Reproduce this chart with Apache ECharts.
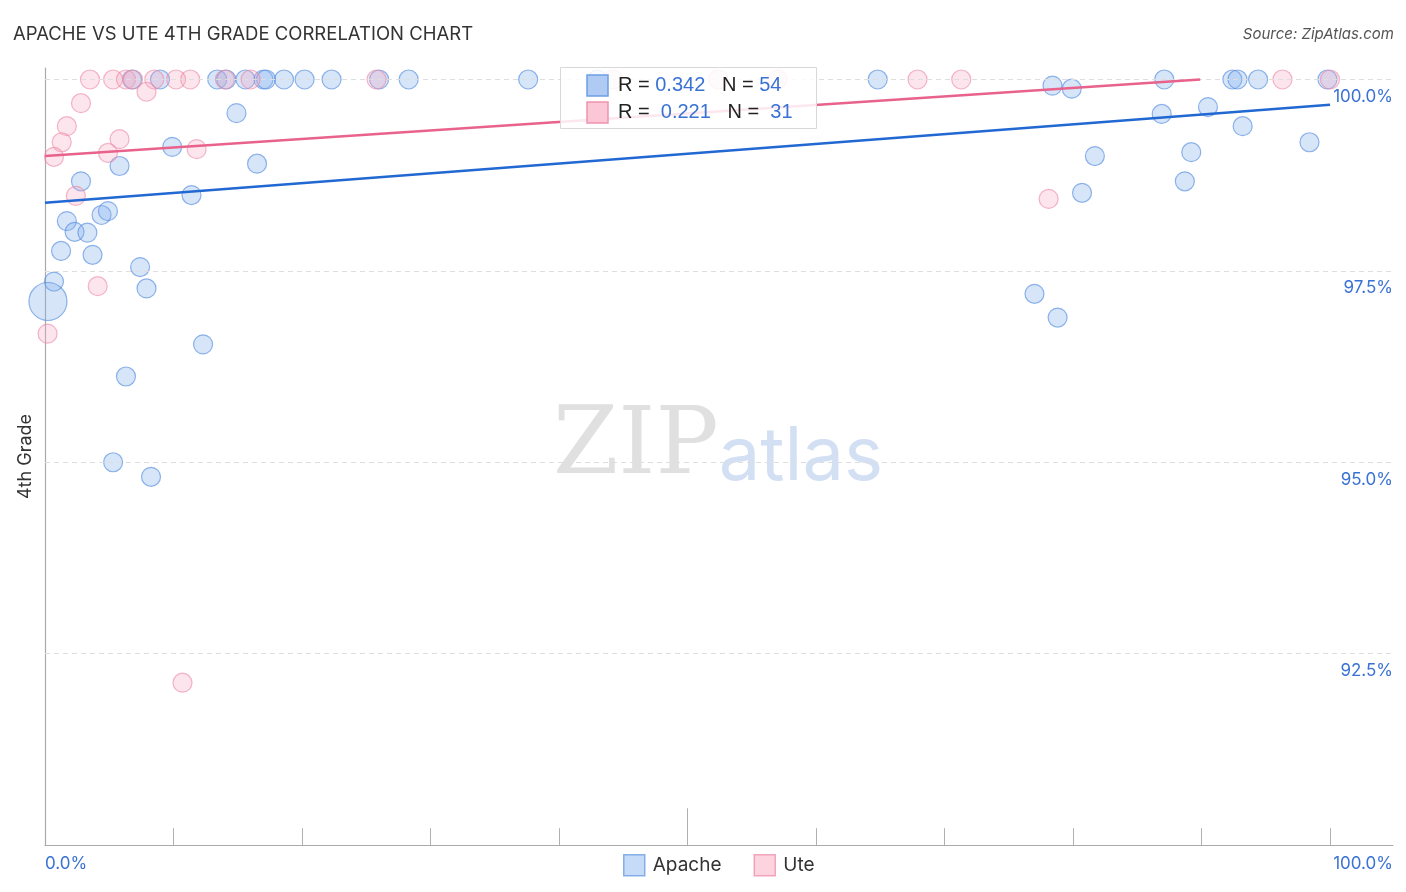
<!DOCTYPE html>
<html>
<head>
<meta charset="utf-8">
<script src="https://cdn.jsdelivr.net/npm/echarts@6/dist/echarts.min.js"></script>
<style>html,body{margin:0;padding:0;background:#fff}#c{width:1406px;height:892px}</style>
</head>
<body>
<div id="c"></div>
<script>
// ---- data ----
const apacheX = [6.77,8.95,13.4,14.1,15.6,17.0,17.2,18.6,20.2,22.3,26.0,28.3,37.6,43.0,64.8,87.1,92.4,92.8,94.4,99.8,
  78.4,79.9,
  14.9,9.9,16.5,5.8,2.8,11.4,1.7,4.4,4.9,2.3,3.3,1.25,3.7,7.4,0.7,0.23,7.9,12.3,6.3,5.3,8.25,
  86.9,90.5,93.2,98.4,81.7,89.2,88.7,80.7,77.0,78.8];
const apacheY = [100,100,100,100,100,100,100,100,100,100,100,100,100,100,100,100,100,100,100,100,
  99.92,99.88,
  99.56,99.12,98.90,98.87,98.67,98.49,98.15,98.23,98.28,98.01,98.0,97.76,97.71,97.55,97.36,97.10,97.27,96.54,96.12,95.0,94.81,
  99.55,99.64,99.39,99.18,99.0,99.05,98.67,98.52,97.20,96.89];
const apacheLarge = [37]; // index of the large bubble
const uteX = [3.5,5.3,6.3,6.85,8.5,10.2,11.3,14.0,16.0,25.8,44.2,52.4,57.0,67.9,71.3,96.3,100,
  7.9,2.8,1.7,1.3,0.7,5.8,4.9,11.8,2.4,4.1,0.2,10.7,78.1];
const uteY = [100,100,100,100,100,100,100,100,100,100,100,100,100,100,100,100,100,
  99.84,99.69,99.39,99.18,98.99,99.22,99.04,99.09,98.48,97.30,96.68,92.12,98.44];
const apacheTrend = [[0,98.39],[100,99.67]];
const uteTrend = [[0,99.0],[89.9,100]];
const yTicks = [92.5,95,97.5,100];
const xTickVals = [10,20,30,40,50,60,70,80,90,100];
const stats = [{name:'Apache', r:'0.342', n:'54'},{name:'Ute', r:'0.221', n:'31'}];

const BLUE_TXT = '#3a72d4';
const chart = echarts.init(document.getElementById('c'));
const zip = (xs, ys) => xs.map((x,i)=>[x, ys[i]]);

const tickLines = xTickVals.map(v => [{coord:[v,90]},{coord:[v, v===50 ? 90.48 : 90.22]}]);

chart.setOption({
  animation: false,
  textStyle: {fontFamily: 'Inter, "Noto Sans", sans-serif'},
  title: [
    {text: 'APACHE VS UTE 4TH GRADE CORRELATION CHART', left: 13, top: 25, padding: 0,
     textStyle: {fontSize: 18.5, fontWeight: 'normal', color: '#333'}},
    {text: 'Source: ZipAtlas.com', right: 12, top: 27, padding: 0,
     textStyle: {fontSize: 15, fontWeight: 'normal', fontStyle: 'italic', color: '#555'}}
  ],
  grid: {left: 45, right: 13, top: 68, bottom: 47},
  xAxis: {
    type: 'value', min: 0, max: 104.9, interval: 10,
    axisLine: {show: true, lineStyle: {color: '#aaa', width: 1.2}},
    axisTick: {show: false}, splitLine: {show: false},
    axisLabel: {
      showMinLabel: true, showMaxLabel: true,
      alignMinLabel: 'left', alignMaxLabel: 'right',
      formatter: v => v === 0 ? '0.0%' : (v > 104 ? '100.0%' : ''),
      color: BLUE_TXT, fontSize: 17, margin: 10
    }
  },
  yAxis: [
    {type: 'value', position: 'right', min: 90, max: 100.15, interval: 2.5,
     axisLine: {show: false}, axisTick: {show: false}, splitLine: {show: false},
     axisLabel: {inside: true, margin: 0, color: BLUE_TXT, fontSize: 17,
       verticalAlign: 'top', padding: [9,0,0,0],
       formatter: v => yTicks.some(t => Math.abs(t - v) < 1e-6) ? v.toFixed(1) + '%' : ''}},
    {type: 'value', position: 'left', min: 90, max: 100.15, interval: 2.5,
     axisLine: {show: true, lineStyle: {color: '#aaa', width: 1.2}},
     axisTick: {show: false}, splitLine: {show: false}, axisLabel: {show: false},
     name: '4th Grade', nameLocation: 'middle', nameGap: 10,
     nameTextStyle: {fontSize: 18, color: '#333'}}
  ],
  legend: {
    left: 618, top: 849, itemWidth: 21, itemHeight: 21, itemGap: 32,
    icon: 'rect',
    textStyle: {fontSize: 19, color: '#333', padding: [0,0,0,3]},
    data: [
      {name: 'Apache', itemStyle: {color: '#b8d2f5', borderColor: '#6e9fe3', borderWidth: 1.5}},
      {name: 'Ute', itemStyle: {color: '#fbc8d6', borderColor: '#ef94ae', borderWidth: 1.5}}
    ]
  },
  graphic: [
    {type: 'text', left: 553, top: 402, z: 0, silent: true,
     style: {text: '{a|ZIP}{b|atlas}',
       rich: {a: {fontFamily: '"DejaVu Serif", "Liberation Serif", serif', fontSize: 94, fill: '#e0e0e0', lineHeight: 104},
              b: {fontFamily: 'Inter, "Noto Sans", sans-serif', fontSize: 74, fill: '#d3e0f4', lineHeight: 104, padding: [18,0,0,0]}}}},
    {type: 'rect', shape: {x: 560.5, y: 67.5, width: 256, height: 61}, z: 50,
     style: {fill: 'rgba(255,255,255,0.85)', stroke: '#d8d8d8', lineWidth: 1}},
    {type: 'rect', shape: {x: 587, y: 75, width: 21, height: 21}, z: 51,
     style: {fill: '#b0cbf3', stroke: '#6e9fe3', lineWidth: 1.5}},
    {type: 'rect', shape: {x: 587, y: 102, width: 21, height: 21}, z: 51,
     style: {fill: '#fbc6d5', stroke: '#ef94ae', lineWidth: 1.5}},
    {type: 'text', left: 618, top: 75, z: 51,
     style: {text: '{k|R = }{v|' + stats[0].r + '}{k|   N = }{v|' + stats[0].n + '}',
       rich: {k: {fontSize: 20, fill: '#222'}, v: {fontSize: 20, fill: BLUE_TXT}}}},
    {type: 'text', left: 618, top: 102, z: 51,
     style: {text: '{k|R =  }{v|' + stats[1].r + '}{k|   N =  }{v|' + stats[1].n + '}',
       rich: {k: {fontSize: 20, fill: '#222'}, v: {fontSize: 20, fill: BLUE_TXT}}}}
  ],
  series: [
    {name: 'grid', type: 'line', data: [], yAxisIndex: 0, silent: true,
     markLine: {silent: true, symbol: 'none', label: {show: false},
       lineStyle: {type: [5,4], color: '#dedede', width: 1},
       data: yTicks.map(v => ({yAxis: v}))}},
    {name: 'ticks', type: 'line', data: [], yAxisIndex: 0, silent: true,
     markLine: {silent: true, symbol: 'none', label: {show: false},
       lineStyle: {type: 'solid', color: '#b0b0b0', width: 1},
       data: tickLines}},
    {name: 'Apache', type: 'scatter', yAxisIndex: 0, clip: true,
     data: zip(apacheX, apacheY),
     symbolSize: (v, p) => apacheLarge.includes(p.dataIndex) ? 38 : 19,
     itemStyle: {color: 'rgba(130,175,235,0.4)', borderColor: 'rgba(80,138,222,0.78)', borderWidth: 1.2}},
    {name: 'Ute', type: 'scatter', yAxisIndex: 0, clip: true,
     data: zip(uteX, uteY), symbolSize: 19,
     itemStyle: {color: 'rgba(246,165,190,0.36)', borderColor: 'rgba(236,130,162,0.72)', borderWidth: 1.2}},
    {name: 'ApacheTrend', type: 'line', yAxisIndex: 0, data: apacheTrend, showSymbol: false, symbol: 'none',
     lineStyle: {color: '#2168d2', width: 2.5}, z: 5, silent: true},
    {name: 'UteTrend', type: 'line', yAxisIndex: 0, data: uteTrend, showSymbol: false, symbol: 'none',
     lineStyle: {color: '#e8628c', width: 2.5}, z: 5, silent: true}
  ]
});
</script>
</body>
</html>
